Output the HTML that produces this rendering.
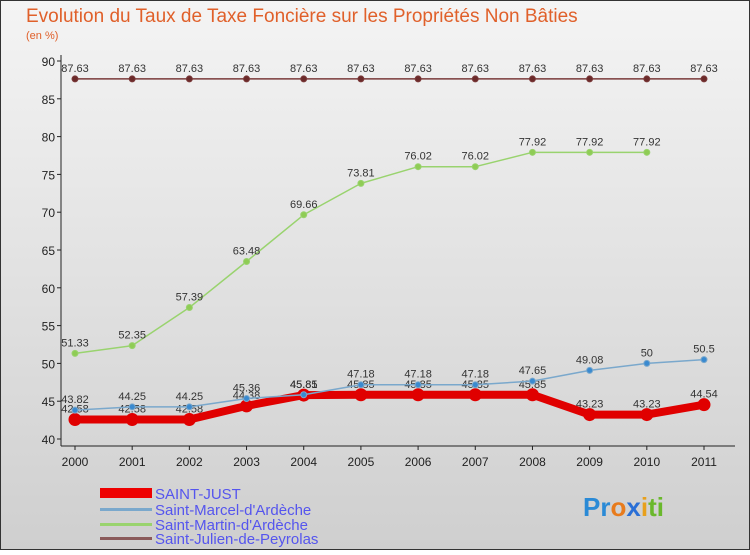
<!DOCTYPE html>
<html><head><meta charset="utf-8"><style>
body{margin:0;width:750px;height:550px;overflow:hidden;font-family:"Liberation Sans",sans-serif}
</style></head><body>
<svg width="750" height="550" xmlns="http://www.w3.org/2000/svg">
<defs><linearGradient id="bg" x1="0" y1="0" x2="0" y2="1"><stop offset="0" stop-color="#f4f4f4"/><stop offset="1" stop-color="#cfcfcf"/></linearGradient></defs>
<rect x="0.5" y="0.5" width="749" height="549" fill="url(#bg)" stroke="#333"/>
<text x="26" y="22" font-size="19" fill="#e0602a">Evolution du Taux de Taxe Foncière sur les Propriétés Non Bâties</text>
<text x="26" y="39" font-size="11" fill="#e0602a">(en %)</text>
<g id="axes"></g><g id="series"></g>
<g>
<rect x="100" y="488" width="52" height="10" fill="#e00"/>
<text x="155" y="499" font-size="15" fill="#5555ee">SAINT-JUST</text>
<rect x="100" y="508" width="52" height="3" fill="#7aa8cc"/>
<text x="155" y="515" font-size="15" fill="#5555ee">Saint-Marcel-d'Ardèche</text>
<rect x="100" y="523" width="52" height="3" fill="#99d36e"/>
<text x="155" y="530" font-size="15" fill="#5555ee">Saint-Martin-d'Ardèche</text>
<rect x="100" y="537" width="52" height="3" fill="#8a5a5a"/>
<text x="155" y="544" font-size="15" fill="#5555ee">Saint-Julien-de-Peyrolas</text>
</g>
<text x="583" y="516" font-size="26" font-weight="bold"><tspan fill="#2a8ad6">Pr</tspan><tspan fill="#e87b1c">o</tspan><tspan fill="#2a6fd6">x</tspan><tspan fill="#e8a01c">i</tspan><tspan fill="#6ab82c">ti</tspan></text>
</svg>
<script>
const years=[2000,2001,2002,2003,2004,2005,2006,2007,2008,2009,2010,2011];
const yTicks=[40,45,50,55,60,65,70,75,80,85,90];
const saintJust=[42.58,42.58,42.58,44.38,45.81,45.85,45.85,45.85,45.85,43.23,43.23,44.54];
const marcel=[43.82,44.25,44.25,45.36,45.85,47.18,47.18,47.18,47.65,49.08,50,50.5];
const martin=[51.33,52.35,57.39,63.48,69.66,73.81,76.02,76.02,77.92,77.92,77.92];
const julien=[87.63,87.63,87.63,87.63,87.63,87.63,87.63,87.63,87.63,87.63,87.63,87.63];
const NS="http://www.w3.org/2000/svg";
const X=i=>75+i*(704-75)/11;
const Y=v=>439-(v-40)*(439-61)/50;
function mk(t,a,p){const e=document.createElementNS(NS,t);for(const k in a)e.setAttribute(k,a[k]);p.appendChild(e);return e;}
const ax=document.getElementById('axes');
const yl=mk('line',{x1:61,y1:55,x2:61,y2:446,stroke:'#222'},ax);


const xl=mk('line',{x1:61,y1:446,x2:735,y2:446,stroke:'#222'},ax);


yTicks.forEach(v=>{
 mk('line',{x1:57,y1:Y(v),x2:61,y2:Y(v),stroke:'#222'},ax);
 const t=mk('text',{x:55,y:Y(v)+5,'font-size':12,'text-anchor':'end',fill:'#222'},ax);t.textContent=v;
 
 
});
years.forEach((y,i)=>{
 mk('line',{x1:X(i),y1:446,x2:X(i),y2:450,stroke:'#222'},ax);
 const t=mk('text',{x:X(i),y:466,'font-size':12,'text-anchor':'middle',fill:'#222'},ax);t.textContent=y;
 
 
});
const sg=document.getElementById('series');
function draw(data,color,w,r,name,dot){
 const pts=data.map((v,i)=>X(i)+','+Y(v)).join(' ');
 const l=mk('polyline',{points:pts,fill:'none',stroke:color,'stroke-width':w,'stroke-linejoin':'round'},sg);
 
 
 data.forEach((v,i)=>{
  const c=mk('circle',{cx:X(i),cy:Y(v),r:r,fill:dot,stroke:color,'stroke-width':1},sg);
  
  
  const t=mk('text',{x:X(i),y:Y(v)-7,'font-size':11,'text-anchor':'middle',fill:'#333'},sg);
  t.textContent=v;
  
  
 });
}
draw(julien,'#7a3a3a',1.5,3,'julien','#6b2a2a');
draw(martin,'#99d36e',1.5,3,'martin','#8fcc55');
draw(saintJust,'#e00000',8,6,'saint-just','#e00000');
draw(marcel,'#7aa8cc',1.5,3,'marcel','#3a8ad0');
</script>
</body></html>
